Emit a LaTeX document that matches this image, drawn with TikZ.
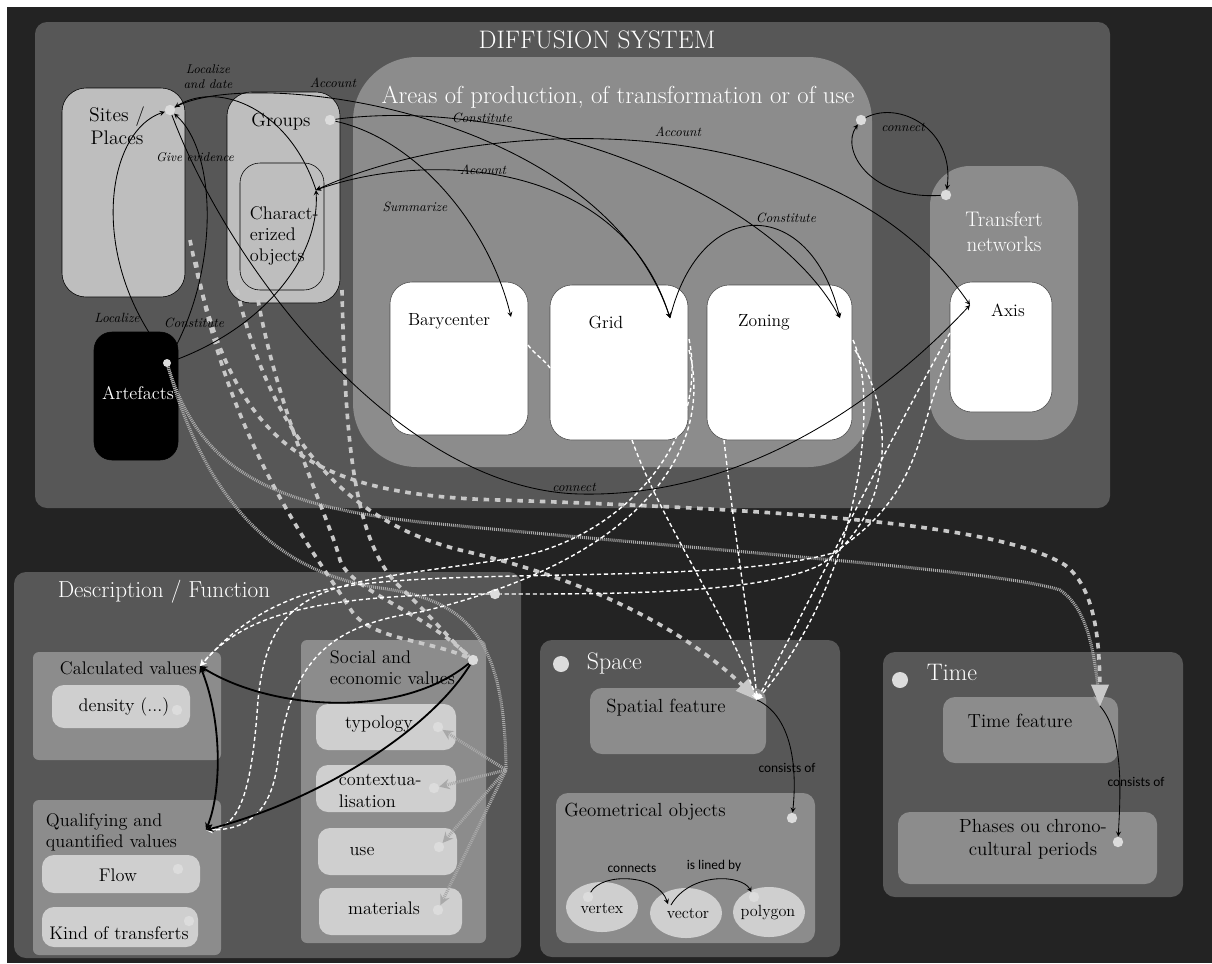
\documentclass[tikz,border=0pt]{standalone}
\usepackage{fontspec}
\newfontfamily\labelsans{Carlito}
\usepackage{xcolor}
\usepackage{tikz}
\usetikzlibrary{shapes.geometric, arrows, positioning, fit}

\definecolor{framedark}{HTML}{232323}
\definecolor{sysgray}{HTML}{575757}
\definecolor{areagray}{HTML}{8C8C8C}
\definecolor{sitegray}{HTML}{BEBEBE}
\definecolor{palegray}{HTML}{CFCFCF}
\definecolor{dotgray}{HTML}{DCDCDC}
\definecolor{dashgray}{HTML}{C8C8C8}
\definecolor{dotline}{HTML}{A9A9A9}

\begin{document}
\begin{tikzpicture}[
        x=0.025cm, y=-0.025cm,
        container/.style={rectangle, fill=sysgray, rounded corners=0.3cm, inner sep=0pt},
        areabox/.style={rectangle, fill=areagray, rounded corners=0.25cm, inner sep=0pt},
        sitebox/.style={rectangle, draw=black, thin, fill=sitegray, rounded corners=0.6cm, inner sep=0pt},
        whitebox/.style={rectangle, draw=black!70, thin, fill=white, rounded corners=0.55cm, inner sep=0pt},
        palebox/.style={rectangle, fill=palegray, rounded corners=0.3cm, inner sep=0pt},
        blob/.style={ellipse, fill=palegray, minimum width=1.8cm, minimum height=1.25cm, inner sep=0pt},
        port/.style={circle, fill=dotgray, inner sep=0pt, minimum size=0.26cm},
        heading/.style={text=white, font=\fontsize{17}{20}\selectfont, align=center},
        boxtext/.style={font=\fontsize{13}{15}\selectfont, align=center},
        verb/.style={font=\itshape\fontsize{9.5}{10.5}\selectfont, align=center},
        relation/.style={font=\labelsans\fontsize{9.5}{11}\selectfont},
        link/.style={-stealth, line width=0.6pt},
        boldlink/.style={-stealth, line width=1.3pt},
        wdash/.style={white, line width=1pt, dash pattern=on 3pt off 2pt, -stealth},
        gdash/.style={dashgray, line width=2.6pt, dash pattern=on 4pt off 4pt},
        gdots/.style={dotline, line width=2.2pt, dash pattern=on 0.7pt off 0.7pt}
    ]

    \useasboundingbox (0,0) rectangle (1212,963);
    \fill[white] (0,0) rectangle (1212,963);
    \fill[framedark] (7,7) rectangle (1212,963);

    % diffusion system
    \node (system) [container, fit={(35,22) (1110,508)}] {};
    \node (systemtitle) [heading, font=\fontsize{18}{20}\selectfont] at (597,40) {DIFFUSION SYSTEM};

    \node (sites) [sitebox, fit={(62,88) (185,297)}] {};
    \node (groups) [sitebox, fit={(227,92) (340,303)}] {};
    \node (charobj) [sitebox, rounded corners=0.5cm, fit={(240,163) (324,290)}] {};
    \node (artefacts) [sitebox, fill=black, rounded corners=0.45cm, fit={(94,332) (178,460)}] {};

    \node (areas) [areabox, rounded corners=1.6cm, fit={(353,57) (872,467)}] {};
    \node (bary) [whitebox, fit={(390,282) (528,435)}] {};
    \node (grid) [whitebox, fit={(550,285) (688,440)}] {};
    \node (zoning) [whitebox, fit={(707,285) (852,440)}] {};

    \node (trans) [areabox, rounded corners=1cm, fit={(930,166) (1078,440)}] {};
    \node (axis) [whitebox, fit={(950,282) (1052,412)}] {};

    \node (sitestxt) [boxtext, font=\fontsize{14}{16.5}\selectfont] at (117,126) {Sites /\\Places};
    \node (groupstxt) [boxtext, font=\fontsize{13.5}{16}\selectfont] at (281,122) {Groups};
    \node (chartxt) [boxtext, align=left, anchor=west] at (245,236) {Charact-\\erized\\objects};
    \node (arttxt) [boxtext, text=white] at (138,393) {Artefacts};
    \node (areastxt) [heading, font=\fontsize{17.5}{20}\selectfont] at (618,97) {Areas of production, of transformation or of use};
    \node (barytxt) [boxtext, font=\fontsize{12.5}{15}\selectfont] at (449,321) {Barycenter};
    \node (gridtxt) [boxtext, font=\fontsize{12.5}{15}\selectfont] at (606,322) {Grid};
    \node (zontxt) [boxtext, font=\fontsize{12.5}{15}\selectfont] at (764,322) {Zoning};
    \node (transtxt) [heading, font=\fontsize{15}{18}\selectfont] at (1004,232) {Transfert\\networks};
    \node (axistxt) [boxtext, font=\fontsize{12.5}{15}\selectfont] at (1008,310) {Axis};

    % description / function
    \node (desc) [container, fit={(14,572) (521,958)}] {};
    \node (desctitle) [heading, font=\fontsize{16.5}{19}\selectfont] at (164,592) {Description / Function};
    \node (calc) [areabox, rounded corners=0.15cm, fit={(33,652) (221,760)}] {};
    \node (density) [palebox, fit={(52,685) (190,728)}] {};
    \node (qual) [areabox, rounded corners=0.15cm, fit={(33,800) (221,955)}] {};
    \node (flow) [palebox, fit={(42,855) (200,893)}] {};
    \node (kind) [palebox, fit={(42,907) (198,947)}] {};
    \node (social) [areabox, rounded corners=0.15cm, fit={(301,640) (486,943)}] {};
    \node (typology) [palebox, fit={(316,704) (456,750)}] {};
    \node (context) [palebox, fit={(316,765) (456,812)}] {};
    \node (use) [palebox, fit={(318,828) (457,875)}] {};
    \node (materials) [palebox, fit={(319,888) (462,935)}] {};

    \node (calctxt) [boxtext, anchor=west] at (55,668) {Calculated values};
    \node (denstxt) [boxtext] at (124,707) {density (...)};
    \node (qualtxt) [boxtext, align=left, anchor=west] at (41,832) {Qualifying and\\quantified values};
    \node (flowtxt) [boxtext] at (118,875) {Flow};
    \node (kindtxt) [boxtext] at (119,933) {Kind of transferts};
    \node (soctxt) [boxtext, align=left, anchor=west] at (325,668) {Social and\\economic values};
    \node (typtxt) [boxtext] at (379,724) {typology};
    \node (conttxt) [boxtext, align=left, anchor=west] at (334,791) {contextua-\\lisation};
    \node (usetxt) [boxtext] at (362,851) {use};
    \node (mattxt) [boxtext] at (384,908) {materials};

    % space
    \node (space) [container, fit={(540,640) (840,957)}] {};
    \node (spacetxt) [heading, anchor=west] at (582,663) {Space};
    \node (spatial) [areabox, rounded corners=0.3cm, fit={(590,688) (766,754)}] {};
    \node (spattxt) [boxtext, font=\fontsize{13.5}{16}\selectfont] at (666,708) {Spatial feature};
    \node (geom) [areabox, rounded corners=0.3cm, fit={(556,793) (815,943)}] {};
    \node (geomtxt) [boxtext, font=\fontsize{13.5}{16}\selectfont] at (645,812) {Geometrical objects};
    \node (vertex) [blob] at (602,907) {};
    \node (vector) [blob] at (686,913) {};
    \node (polygon) [blob] at (769,912) {};
    \node (vertextxt) [boxtext, font=\fontsize{11.5}{14}\selectfont] at (602,909) {vertex};
    \node (vectortxt) [boxtext, font=\fontsize{11.5}{14}\selectfont] at (688,914) {vector};
    \node (polytxt) [boxtext, font=\fontsize{11.5}{14}\selectfont] at (768,913) {polygon};

    % time
    \node (time) [container, fit={(883,652) (1183,897)}] {};
    \node (timetxt) [heading, anchor=west] at (922,672) {Time};
    \node (timefeat) [areabox, rounded corners=0.3cm, fit={(943,697) (1118,763)}] {};
    \node (timeftxt) [boxtext, font=\fontsize{13.5}{16}\selectfont] at (1020,721) {Time feature};
    \node (phases) [areabox, rounded corners=0.3cm, fit={(898,812) (1157,884)}] {};
    \node (phasetxt) [boxtext, font=\fontsize{13.5}{16}\selectfont] at (1033,839) {Phases ou chrono-\\cultural periods};

    % end points
    \coordinate (chardot) at (316,190);
    \coordinate (arttop) at (150,334);
    \coordinate (artright) at (176,346);
    \coordinate (barydot) at (511,317);
    \coordinate (griddot) at (670,318);
    \coordinate (zondot) at (840,318);
    \coordinate (axisdot) at (970,305);
    \coordinate (calcdot) at (200,666);
    \coordinate (qualdot) at (206,830);
    \coordinate (spatdot) at (757,700);
    \coordinate (timefdot) at (1100,706);
    \coordinate (vectordot) at (668,904);
    \coordinate (vectorsrc) at (671,905);
    \coordinate (baryR) at (528,345);
    \coordinate (gridL) at (550,368);
    \coordinate (gridR) at (689,339);
    \coordinate (gridR2) at (689,350);
    \coordinate (gridB) at (632,440);
    \coordinate (zonB) at (724,440);
    \coordinate (zonR) at (853,340);
    \coordinate (zonR2) at (855,350);
    \coordinate (axisL) at (950,333);
    \coordinate (axisL2) at (953,347);
    \coordinate (sitesR) at (190,240);
    \coordinate (sitesR2) at (196,262);
    \coordinate (groupsB) at (237,290);
    \coordinate (groupsB2) at (258,300);
    \coordinate (groupsR) at (342,290);
    \coordinate (fan) at (506,770);

    \node (sitesdot) [port] at (170,110) {};
    \node (groupsdot) [port] at (330,120) {};
    \node (artdot) [port, minimum size=0.2cm] at (167,363) {};
    \node (areasdot) [port] at (861,120) {};
    \node (transdot) [port] at (946,195) {};
    \node (descdot) [port] at (495,594) {};
    \node (densdot) [port] at (177,710) {};
    \node (flowdot) [port] at (178,869) {};
    \node (kinddot) [port] at (189,921) {};
    \node (socdot) [port] at (473,660) {};
    \node (typdot) [port] at (438,727) {};
    \node (contdot) [port] at (434,788) {};
    \node (usedot) [port] at (439,847) {};
    \node (matdot) [port] at (438,910) {};
    \node (spacedot) [port, minimum size=0.4cm] at (561,664) {};
    \node (geomdot) [port] at (792,818) {};
    \node (timedot) [port, minimum size=0.4cm] at (900,680) {};
    \node (phasedot) [port] at (1118,842) {};
    \node (vertexdot) [port] at (588,897) {};
    \node (polydot) [port] at (754,897) {};

    % grey dotted
    \draw [gdots] (artdot) .. controls (200,480) and (260,570) .. (380,588) .. controls (470,600) and (505,640) .. (fan);
    \foreach \t in {typdot, contdot, usedot, matdot}
        \draw [gdots, -stealth] (fan) -- (\t);
    \draw [gdots, -stealth] (artdot) .. controls (200,470) and (270,505) .. (420,522) .. controls (700,550) and (1000,570) .. (1060,590) .. controls (1090,610) and (1095,660) .. (timefdot);

    % grey dashed
    \draw [gdash, -triangle 45] (groupsB) .. controls (270,430) and (340,520) .. (460,550) .. controls (590,580) and (690,630) .. (spatdot);
    \draw [gdash, -triangle 45] (sitesR) .. controls (230,440) and (300,495) .. (500,500) .. controls (800,510) and (1000,525) .. (1065,565) .. controls (1098,590) and (1100,650) .. (timefdot);
    \draw [gdash] (sitesR2) .. controls (230,450) and (320,560) .. (351,610) .. controls (370,640) and (430,640) .. (socdot);
    \draw [gdash] (groupsR) .. controls (345,420) and (350,540) .. (400,587) .. controls (430,615) and (450,640) .. (socdot);
    \draw [gdash] (groupsB2) .. controls (280,420) and (330,520) .. (340,560) .. controls (350,590) and (420,610) .. (socdot);

    % white dashed
    \draw [wdash, -] (baryR) .. controls (535,355) and (545,360) .. (gridL);
    \draw [wdash] (gridB) .. controls (660,520) and (730,620) .. (spatdot);
    \draw [wdash] (zonB) .. controls (735,540) and (752,640) .. (spatdot);
    \draw [wdash] (zonR) .. controls (880,400) and (860,580) .. (spatdot);
    \draw [wdash] (axisL) .. controls (900,420) and (810,600) .. (spatdot);
    \draw [wdash] (gridR) .. controls (710,440) and (620,545) .. (500,560) .. controls (330,585) and (270,580) .. (258,700) .. controls (252,790) and (240,828) .. (qualdot);
    \draw [wdash] (gridR2) .. controls (715,450) and (640,560) .. (420,612) .. controls (330,625) and (290,660) .. (278,760) .. controls (272,810) and (250,830) .. (qualdot);
    \draw [wdash] (axisL2) .. controls (915,420) and (930,490) .. (833,553) .. controls (700,590) and (380,560) .. (290,600) .. controls (240,620) and (215,650) .. (calcdot);
    \draw [wdash, -] (zonR2) .. controls (900,420) and (890,520) .. (820,565) .. controls (760,595) and (600,594) .. (descdot);
    \draw [wdash] (descdot) .. controls (300,594) and (240,620) .. (calcdot);

    % black links
    \draw [link] (chardot) .. controls (290,110) and (220,80) .. (sitesdot);
    \draw [link] (sitesdot) .. controls (250,65) and (600,110) .. (griddot);
    \draw [link] (groupsdot) .. controls (520,95) and (770,190) .. (zondot);
    \draw [link] (groupsdot) .. controls (420,140) and (490,230) .. (barydot);
    \draw [link, stealth-stealth] (chardot) .. controls (430,150) and (620,160) .. (griddot);
    \draw [link, stealth-stealth] (chardot) .. controls (480,115) and (830,100) .. (axisdot);
    \draw [link] (griddot) .. controls (700,195) and (810,195) .. (zondot);
    \draw [link] (arttop) .. controls (90,240) and (110,130) .. (sitesdot);
    \draw [link] (artright) .. controls (220,260) and (215,150) .. (sitesdot);
    \draw [link] (artdot) .. controls (260,330) and (320,260) .. (chardot);
    \draw [link] (sitesdot) .. controls (230,270) and (400,490) .. (580,494) .. controls (760,498) and (900,380) .. (axisdot);
    \draw [link] (transdot) .. controls (870,200) and (840,150) .. (areasdot);
    \draw [link] (areasdot) .. controls (900,100) and (955,130) .. (transdot);

    \draw [boldlink] (socdot) .. controls (400,720) and (270,710) .. (calcdot);
    \draw [boldlink] (socdot) .. controls (430,730) and (320,800) .. (qualdot);
    \draw [boldlink, stealth-stealth] (calcdot) .. controls (222,720) and (222,790) .. (qualdot);
    \draw [link] (spatdot) .. controls (800,720) and (795,790) .. (geomdot);
    \draw [link] (timefdot) .. controls (1125,735) and (1120,800) .. (phasedot);
    \draw [link] (vertexdot) .. controls (602,872) and (658,874) .. (vectordot);
    \draw [link] (vectorsrc) .. controls (690,872) and (742,874) .. (polydot);

    % link labels
    \node (l1) [verb, font=\itshape\fontsize{9}{10.5}\selectfont] at (208,77) {Localize\\and date};
    \node (l2) [verb] at (333,83) {Account};
    \node (l3) [verb, font=\itshape\fontsize{9}{10.5}\selectfont] at (195,157) {Give evidence};
    \node (l4) [verb] at (117,318) {Localize};
    \node (l5) [verb] at (194,323) {Constitute};
    \node (l6) [verb] at (482,118) {Constitute};
    \node (l7) [verb] at (678,132) {Account};
    \node (l8) [verb] at (483,170) {Account};
    \node (l9) [verb] at (415,207) {Summarize};
    \node (l10) [verb] at (786,218) {Constitute};
    \node (l11) [verb] at (903,127) {connect};
    \node (l12) [verb] at (574,487) {connect};
    \node (r1) [relation] at (787,768) {consists of};
    \node (r2) [relation] at (1136,782) {consists of};
    \node (r3) [relation] at (632,868) {connects};
    \node (r4) [relation] at (714,866) {is lined by};

\end{tikzpicture}
\end{document}
